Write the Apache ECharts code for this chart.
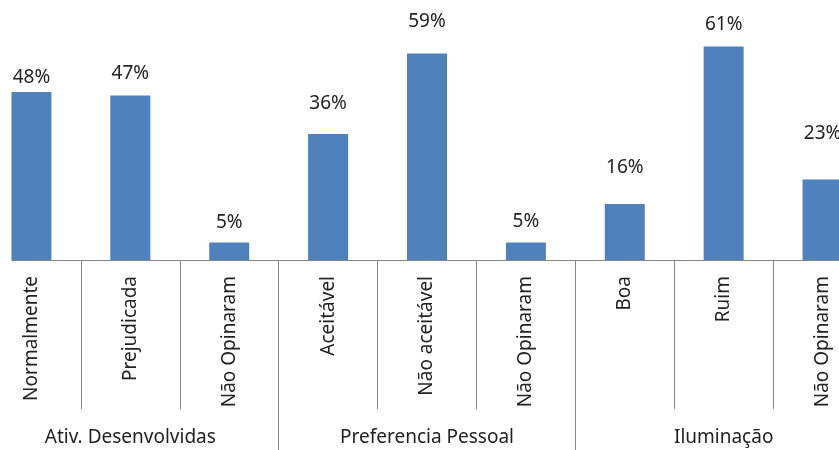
<!DOCTYPE html>
<html>
<head>
<meta charset="utf-8">
<script src="https://cdn.jsdelivr.net/npm/echarts@6/dist/echarts.min.js"></script>
<style>
  html, body { margin: 0; padding: 0; background: #fff; }
  #chart { width: 839px; height: 450px; }
</style>
</head>
<body>
<div id="chart"></div>
<script>
// Survey answers, grouped by topic
const categories = ['Normalmente', 'Prejudicada', 'Não Opinaram',
                    'Aceitável', 'Não aceitável', 'Não Opinaram',
                    'Boa', 'Ruim', 'Não Opinaram'];
const groups = ['Ativ. Desenvolvidas', 'Preferencia Pessoal', 'Iluminação'];
const values = [48, 47, 5, 36, 59, 5, 16, 61, 23];

// Distance of each value label above its bar
const labelGap = [14, 22, 20, 30, 32, 21, 36, 22, 46];

const FONT = '"Noto Sans", "Open Sans", sans-serif';
const TEXT = '#222222';
const GRID_LINE = '#868686';
const BAR_W = 40;

const chart = echarts.init(document.getElementById('chart'), null, { renderer: 'canvas' });

chart.setOption({
  animation: false,
  backgroundColor: '#fff',
  grid: {
    left: -18, right: -33, top: 15, bottom: 190,
    containLabel: false, outerBoundsMode: 'none'
  },
  xAxis: [
    {
      type: 'category',
      data: categories,
      position: 'bottom',
      axisLine: { show: false },
      axisTick: { show: true, interval: 0, length: 149, lineStyle: { color: GRID_LINE, width: 1 } },
      axisLabel: {
        interval: 0, rotate: 90, margin: 16,
        fontFamily: FONT, fontSize: 19, color: TEXT
      }
    },
    {
      type: 'category',
      data: groups,
      position: 'bottom',
      axisLine: { show: false },
      axisTick: { show: true, interval: 0, length: 200, lineStyle: { color: GRID_LINE, width: 1 } },
      axisLabel: {
        interval: 0, margin: 168,
        fontFamily: FONT, fontSize: 19, color: TEXT
      }
    }
  ],
  yAxis: {
    type: 'value', min: 0, max: 70, show: false,
    splitLine: { show: false }
  },
  series: [{
    type: 'bar',
    xAxisIndex: 0,
    barWidth: BAR_W,
    itemStyle: { color: '#4F81BD' },
    label: {
      show: true, position: 'top', verticalAlign: 'middle',
      formatter: '{c}%', fontFamily: FONT, fontSize: 19, color: TEXT
    },
    data: values.map((v, i) => ({ value: v, label: { distance: labelGap[i] } }))
  }]
});

// Horizontal axis line: starts at the left edge of the first bar
const x0 = chart.convertToPixel({ xAxisIndex: 0 }, 0) - BAR_W / 2;
const y0 = chart.convertToPixel({ yAxisIndex: 0 }, 0);
chart.setOption({
  graphic: [{
    type: 'line',
    shape: { x1: x0, y1: y0 + 0.5, x2: chart.getWidth(), y2: y0 + 0.5 },
    style: { stroke: GRID_LINE, lineWidth: 1 },
    z: 10
  }]
});
</script>
</body>
</html>
